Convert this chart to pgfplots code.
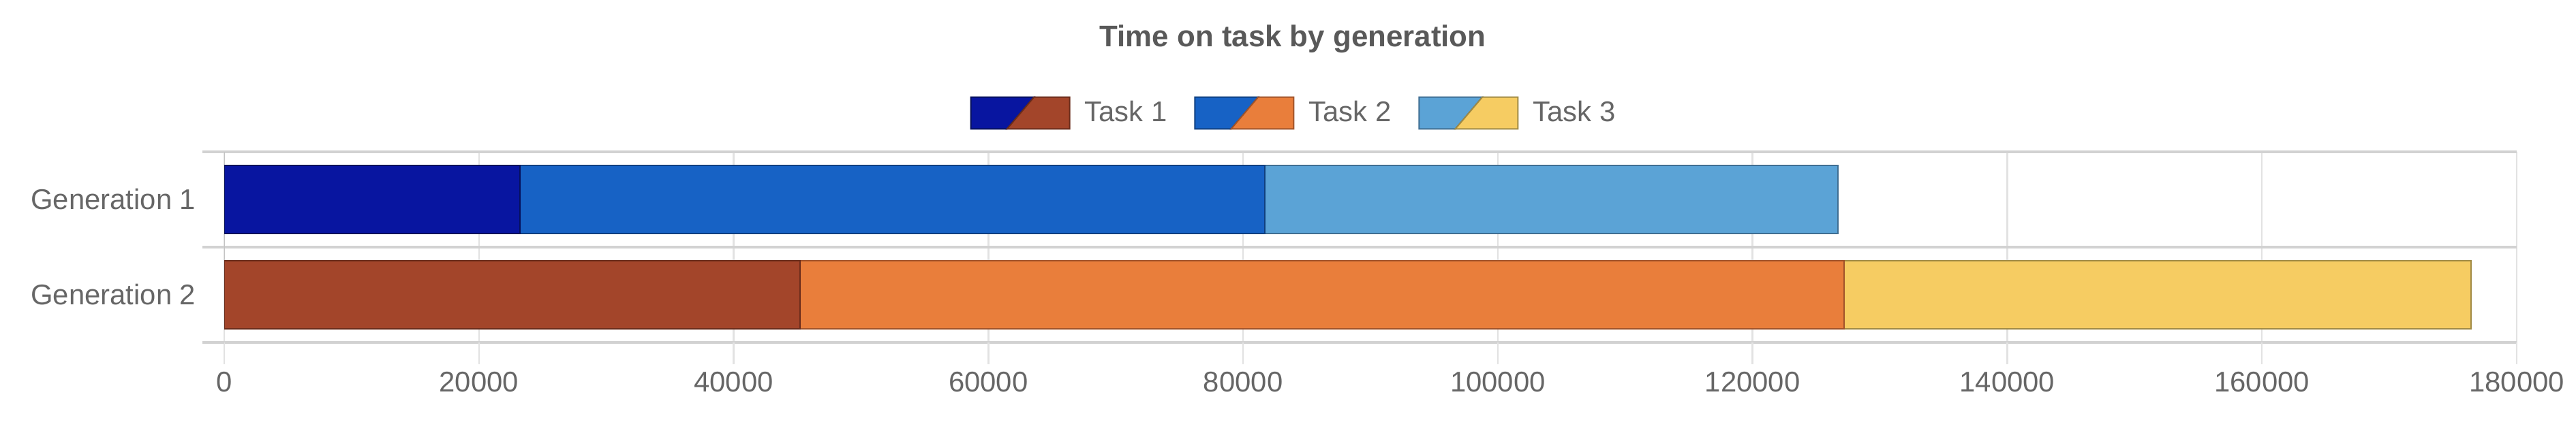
\documentclass[border=0pt]{standalone}
\usepackage{pgfplots}
\pgfplotsset{compat=1.18}
\usepackage{fontspec}
\setmainfont{Liberation Sans}
\definecolor{txt}{HTML}{666666}
\definecolor{titc}{HTML}{595959}
\definecolor{gridc}{HTML}{E2E2E2}
\definecolor{sepc}{HTML}{D2D2D2}
\definecolor{axc}{HTML}{C4C4C4}
\definecolor{c11}{HTML}{0815A0}
\definecolor{e11}{HTML}{06105A}
\definecolor{c12}{HTML}{1762C5}
\definecolor{e12}{HTML}{0F3F80}
\definecolor{c13}{HTML}{5BA3D6}
\definecolor{e13}{HTML}{3F6E92}
\definecolor{c21}{HTML}{A3452A}
\definecolor{e21}{HTML}{6A2C1B}
\definecolor{c22}{HTML}{E97E3B}
\definecolor{e22}{HTML}{A0532A}
\definecolor{c23}{HTML}{F6CC62}
\definecolor{e23}{HTML}{A08A45}
\pgfplotsset{
  base/.style={scale only axis, width=841bp, height=70bp,
    xmin=0, xmax=180000, ymin=-0.5, ymax=1.5, at={(0,0)}, anchor=south west},
}
\newcommand{\legimg}[4]{%
  \path[draw=none, fill=none] (0,0) rectangle (41.75bp,0.1bp);
  \filldraw[fill=#1, draw=#2, line width=0.5bp] (0,-5.85bp) -- (13.27bp,-5.85bp) -- (23.2bp,5.85bp) -- (0,5.85bp) -- cycle;
  \filldraw[fill=#3, draw=#4, line width=0.5bp] (13.27bp,-5.85bp) -- (36.25bp,-5.85bp) -- (36.25bp,5.85bp) -- (23.2bp,5.85bp) -- cycle;
}
\begin{document}
\begin{tikzpicture}
\useasboundingbox (-82.25bp,-33.25bp) rectangle (862.75bp,125.75bp);
\begin{axis}[base,
  axis line style={draw=none},
  scaled x ticks=false,
  tick align=outside, major tick length=8bp,
  xtick pos=lower, ytick pos=left,
  xtick={0,20000,40000,60000,80000,100000,120000,140000,160000,180000},
  xticklabels={0,20000,40000,60000,80000,100000,120000,140000,160000,180000},
  xmajorgrids, x grid style={color=gridc, line width=0.6bp},
  x tick style={color=gridc, line width=0.6bp},
  ytick={-0.5,0.5,1.5}, yticklabels={},
  ymajorgrids, y grid style={color=sepc, line width=0.9bp},
  y tick style={color=sepc, line width=0.9bp},
  extra y ticks={0,1}, extra y tick labels={Generation 2,Generation 1},
  extra y tick style={grid=none, major tick length=0pt, tick style={draw=none}},
  xticklabel style={font=\fontsize{10.5}{12}\selectfont, text=txt, inner sep=0pt, yshift=-2.5bp},
  yticklabel style={font=\fontsize{10.5}{12}\selectfont, text=txt, inner sep=0pt, xshift=-10.25bp},
  legend style={at={(0.4661,1.2036)}, anchor=center, draw=none, fill=none,
    legend columns=3, font=\fontsize{10.5}{12}\selectfont, text=txt,
    /tikz/every even column/.append style={column sep=10bp},
    nodes={inner sep=0pt}},
]
\addlegendimage{/pgfplots/legend image code/.code={\legimg{c11}{e11}{c21}{e21}}}
\addlegendentry{Task 1}
\addlegendimage{/pgfplots/legend image code/.code={\legimg{c12}{e12}{c22}{e22}}}
\addlegendentry{Task 2}
\addlegendimage{/pgfplots/legend image code/.code={\legimg{c13}{e13}{c23}{e23}}}
\addlegendentry{Task 3}
\draw[color=axc, line width=0.7bp] (axis cs:0,-0.5) ++(0,-8bp) -- (axis cs:0,1.5);
\end{axis}
% Generation 1
\begin{axis}[base, hide axis, xbar stacked, bar width=25bp]
\addplot[fill=c11, draw=e11, line width=0.5bp] coordinates {(23200,1)};
\addplot[fill=c12, draw=e12, line width=0.5bp] coordinates {(58500,1)};
\addplot[fill=c13, draw=e13, line width=0.5bp] coordinates {(45000,1)};
\end{axis}
% Generation 2
\begin{axis}[base, hide axis, xbar stacked, bar width=25bp]
\addplot[fill=c21, draw=e21, line width=0.5bp] coordinates {(45200,0)};
\addplot[fill=c22, draw=e22, line width=0.5bp] coordinates {(82000,0)};
\addplot[fill=c23, draw=e23, line width=0.5bp] coordinates {(49200,0)};
\end{axis}
\node[font=\bfseries\fontsize{11}{13}\selectfont, text=titc, anchor=base] at (392bp,108.5bp) {Time on task by generation};
\end{tikzpicture}
\end{document}
